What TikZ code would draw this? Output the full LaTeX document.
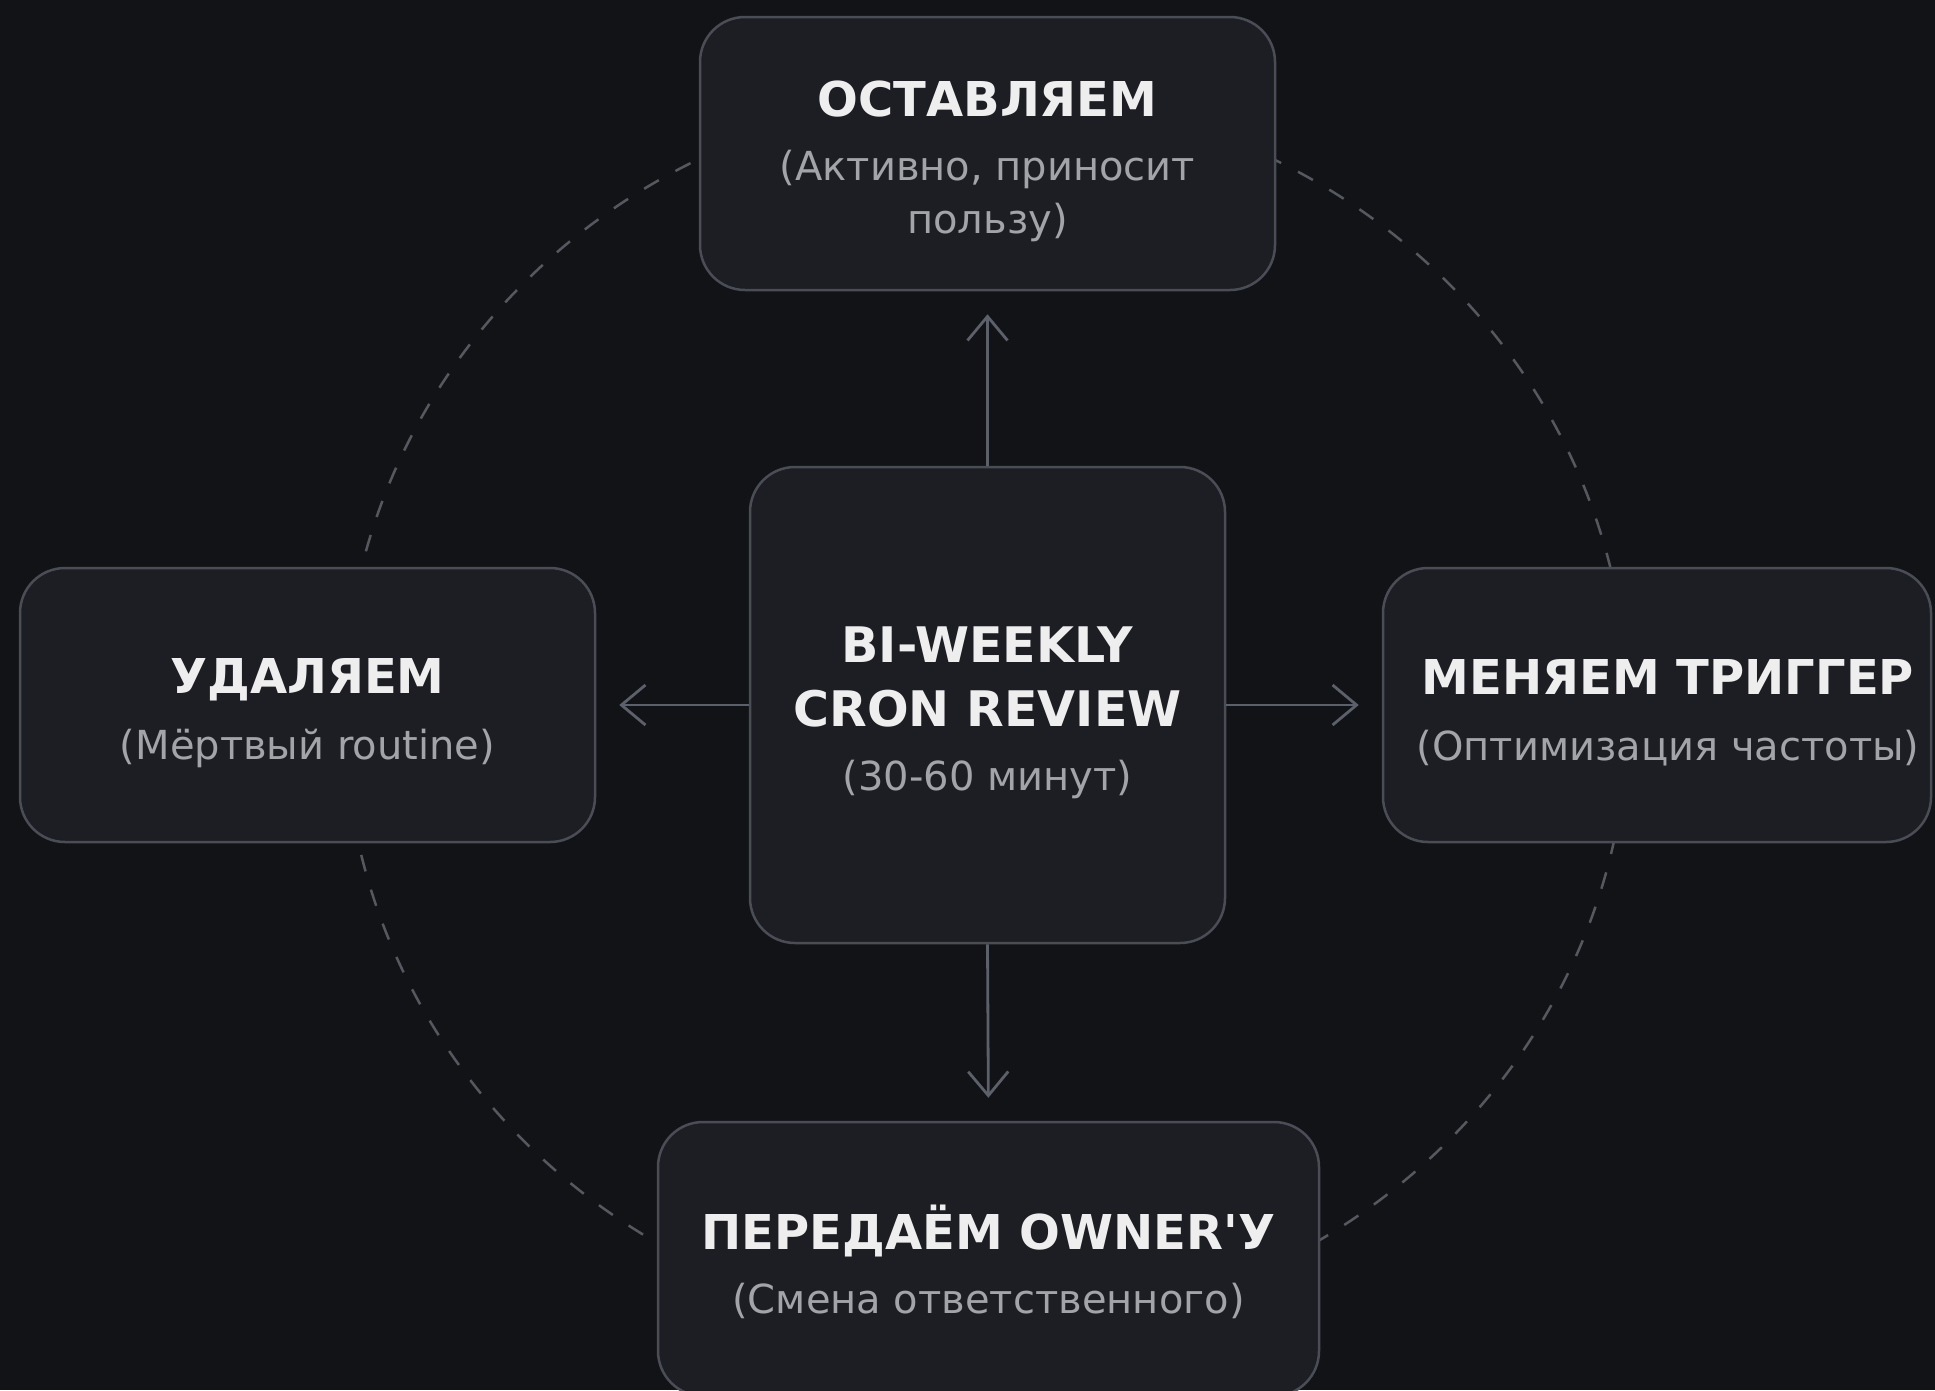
\documentclass[tikz,border=0pt]{standalone}
\usepackage{fontspec}
\setmainfont{DejaVu Sans}
\usetikzlibrary{arrows.meta}
\definecolor{bgc}{HTML}{121317}
\definecolor{boxfill}{HTML}{1D1E23}
\definecolor{boxline}{HTML}{4A4D56}
\definecolor{titlec}{HTML}{EEEEEF}
\definecolor{subc}{HTML}{A2A4AA}
\definecolor{arrowc}{HTML}{5C606A}
\definecolor{ringc}{HTML}{55585F}
\newcommand{\tstrut}{\rule{0pt}{51pt}}
\newcommand{\ttl}[1]{{\color{titlec}\fontsize{48}{53}\selectfont\bfseries\tstrut #1}}
\newcommand{\ctl}[1]{{\color{titlec}\fontsize{49}{64}\selectfont\bfseries #1}}
\tikzset{
  card/.style={draw=boxline, line width=2.5pt, fill=boxfill, rounded corners=45pt,
    align=center, text=subc, font=\fontsize{40}{53}\selectfont, inner sep=0pt},
  flow/.style={draw=arrowc, line width=2.8pt, -{Straight Barb[length=24pt,width=40pt]}, shorten >=23pt},
  ring/.style={draw=ringc, line width=2.5pt, dash pattern=on 17pt off 19pt}
}
\begin{document}
\begin{tikzpicture}[x=1pt,y=-1pt]
\fill[bgc] (0,0) rectangle (1935,1390);
\useasboundingbox (0,0) rectangle (1935,1390);
\draw[ring] (986,712) ellipse [x radius=642pt, y radius=618pt];
\node[card, minimum width=575pt, minimum height=273pt] (keep) at (987.5,153.5)
  {\ttl{ОСТАВЛЯЕМ}\\[11pt](Активно, приносит\\пользу)};
\node[card, minimum width=475pt, minimum height=476pt, font=\fontsize{40}{64}\selectfont] (review) at (987.5,705)
  {\tstrut\ctl{BI-WEEKLY}\\\ctl{CRON REVIEW}\\(30-60 минут)};
\node[card, minimum width=575pt, minimum height=274pt] (del) at (307.5,705)
  {\ttl{УДАЛЯЕМ}\\[13pt](Мёртвый routine)};
\node[card, minimum width=548pt, minimum height=274pt] (trig) at (1657,705)
  {\hspace*{22pt}\ttl{МЕНЯЕМ ТРИГГЕР}\\[13pt]\hspace*{22pt}(Оптимизация частоты)};
\node[card, minimum width=661pt, minimum height=274pt] (owner) at (988.5,1259)
  {\ttl{ПЕРЕДАЁМ OWNER\textquotesingle У}\\[11pt](Смена ответственного)};
\draw[flow] (review.north) -- (keep.south);
\draw[flow] (review.west) -- (del.east);
\draw[flow] (review.east) -- (trig.west);
\draw[flow] (review.south) -- (owner.north);
\end{tikzpicture}
\end{document}
